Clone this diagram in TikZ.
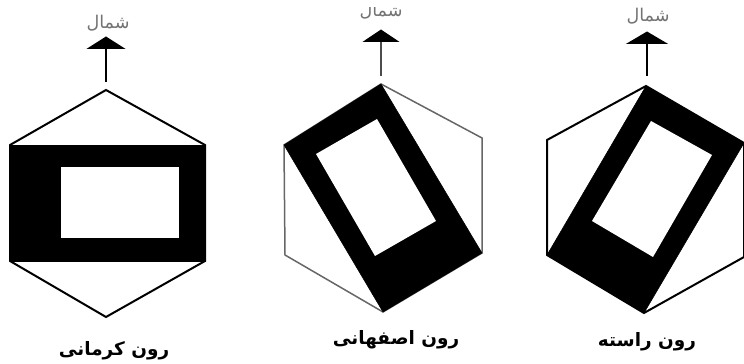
\documentclass[tikz,border=0pt]{standalone}
\usepackage{fontspec}
\usepackage{tikz}
\usetikzlibrary{arrows.meta}
\usepackage{xcolor}
\TeXXeTstate=1
\newfontfamily\arabicfont[Script=Arabic]{DejaVu Sans}
\newcommand{\northword}{\arabicfont\beginR شمال\endR}
\begin{document}
\begin{tikzpicture}[x=0.02cm,y=-0.02cm,every node/.style={inner sep=0pt},
hexline/.style={line width=0.04cm,line join=miter},
band/.style={fill=black,draw=black,line width=0.01cm},
window/.style={fill=white},
northarrow/.style={-{Triangle[length=0.25cm,width=0.78cm]},shorten >=-0.01cm},
northlabel/.style={text=black!55,font=\fontsize{10pt}{12pt}\selectfont},
romlabel/.style={font=\fontsize{10.5pt}{12pt}\selectfont\bfseries}]
\useasboundingbox (0,0) rectangle (744,364);
\coordinate(k1) at (106,90);\coordinate(k2) at (205,145);\coordinate(k3) at (205,261);
\coordinate(k4) at (106,317);\coordinate(k5) at (10,261);\coordinate(k6) at (10,145);
\coordinate(kb) at (106,82);\coordinate(kt) at (106,37);
\draw[hexline](k1)--(k2)--(k3)--(k4)--(k5)--(k6)--cycle;
\fill[band](k6)--(k2)--(k3)--(k5)--cycle;
\fill[window](61,167) rectangle (179,238);
\draw[northarrow,line width=0.035cm](kb)--(kt);
\node[northlabel](kn) at (108,23){\northword};
\node[romlabel](kr) at (114,351){\arabicfont\beginR رون کرمانی\endR};
\coordinate(e1) at (381,84);\coordinate(e2) at (482,138);\coordinate(e3) at (482,253);
\coordinate(e4) at (383,312);\coordinate(e5) at (285,255);\coordinate(e6) at (284,145);
\coordinate(eb) at (381,76);\coordinate(et) at (381,30);
\draw[hexline,draw=black!60,line width=0.03cm](e1)--(e2)--(e3)--(e4)--(e5)--(e6)--cycle;
\fill[band](e1)--(e6)--(e4)--(e3)--cycle;
\fill[window](377,119)--(436,221)--(375,256)--(316,154)--cycle;
\draw[northarrow,draw=black!70,line width=0.025cm,-{Triangle[length=0.25cm,width=0.74cm,black]}](eb)--(et);
\begin{scope}
\clip (320,8) rectangle (470,30);
\node[northlabel](en) at (381,11){\northword};
\end{scope}
\node[romlabel](er) at (396,340){\arabicfont\beginR رون اصفهانی\endR};
\coordinate(r1) at (646,86);\coordinate(r2) at (744,143);\coordinate(r3) at (744,257);
\coordinate(r4) at (644,313);\coordinate(r5) at (547,255);\coordinate(r6) at (547,140);
\coordinate(rb) at (647,76);\coordinate(rt) at (647,32);
\draw[hexline](r1)--(r2)--(r3)--(r4)--(r5)--(r6)--cycle;
\fill[band](r1)--(r2)--(r4)--(r5)--cycle;
\fill[window](651,121)--(712,155)--(653,257)--(592,221)--cycle;
\draw[northarrow,line width=0.05cm,-{Triangle[length=0.25cm,width=0.84cm]}](rb)--(rt);
\node[northlabel](rn) at (648,16){\northword};
\node[romlabel](rr) at (647,342){\arabicfont\beginR رون راسته\endR};
\end{tikzpicture}
\end{document}
